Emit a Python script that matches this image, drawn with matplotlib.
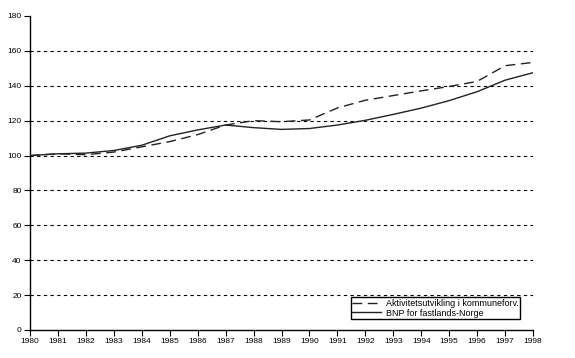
import matplotlib
matplotlib.use("Agg")
import matplotlib.pyplot as plt

years = list(range(1980, 1999))
aktivitet = [100, 101, 100.5, 102, 105, 108, 112, 117.5, 120, 119.4, 120.4,
             127.3, 131.7, 134.4, 137.1, 139.6, 142.5, 151.5, 153.4]
bnp = [100, 101, 101.4, 102.9, 105.9, 111.3, 114.7, 117.5, 116, 115, 115.5,
       117.5, 120.2, 123.6, 127.2, 131.5, 136.6, 143.2, 147.5]
yticks = list(range(0, 181, 20))
labels = ["Aktivitetsutvikling i kommuneforv.", "BNP for fastlands-Norge"]

plt.rcParams['font.family'] = ['Liberation Sans', 'DejaVu Sans']

W, H = 575, 358
fig = plt.figure(figsize=(W / 100, H / 100), dpi=100)
ax = fig.add_axes([30 / W, 1 - 330 / H, (533 - 30) / W, (330 - 16) / H])

for y in yticks[1:-1]:
    ax.axhline(y, color='black', lw=0.8, ls=(0, (3, 3)), zorder=1)

ax.plot(years, aktivitet, color='#222222', lw=1.0, ls=(0, (7, 4)), label=labels[0], zorder=3)
ax.plot(years, bnp, color='#222222', lw=1.0, ls='-', label=labels[1], zorder=3)

ax.set_xlim(1980, 1998)
ax.set_ylim(0, 180)
ax.set_xticks(years)
ax.set_xticklabels([str(y) for y in years])
ax.set_yticks(yticks)
for s in ['top', 'right']:
    ax.spines[s].set_visible(False)
for s in ['left', 'bottom']:
    ax.spines[s].set_linewidth(1.0)
ax.tick_params(axis='both', labelsize=6, length=4, width=0.8, direction='out', pad=2)

leg = ax.legend(loc='lower right', bbox_to_anchor=(0.974, 0.035), fontsize=6.5,
                frameon=True, fancybox=False, edgecolor='black', framealpha=1,
                handlelength=3.2, borderpad=0.15, labelspacing=0.1, handletextpad=0.5,
                borderaxespad=0)
leg.get_frame().set_linewidth(1.0)

fig.savefig("out.png", dpi=100)
